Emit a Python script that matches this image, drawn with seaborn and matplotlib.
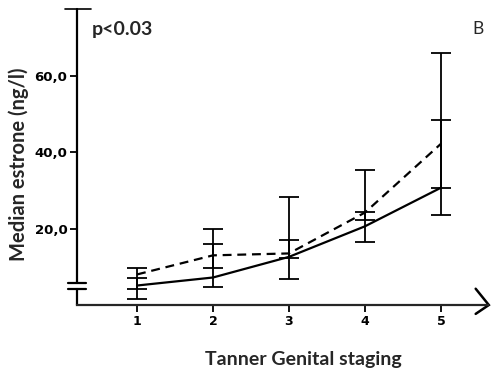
import numpy as np
import pandas as pd
import matplotlib
matplotlib.use("Agg")
import matplotlib.pyplot as plt
import seaborn as sns

# values
stages = [1, 2, 3, 4, 5]
median_dashed = [8.0, 13.0, 13.5, 24.2, 42.2]
median_solid = [5.1, 7.2, 12.6, 20.6, 30.7]
dashed_low = [4.3, 9.8, 12.2, 22.2, 30.7]
dashed_high = [9.8, 19.9, 28.4, 35.4, 66.0]
solid_low = [1.7, 4.6, 6.7, 16.4, 23.5]
solid_high = [7.2, 16.1, 17.1, 24.4, 48.5]
yticks = [20, 40, 60]
ytick_labels = ["20,0", "40,0", "60,0"]

sns.set_style("white")
plt.rcParams['font.family'] = ['Lato', 'DejaVu Sans']

df = pd.DataFrame({
    "stage": stages * 2,
    "median": median_dashed + median_solid,
    "group": ["dashed"] * 5 + ["solid"] * 5,
})

fig = plt.figure(figsize=(4.91, 3.74), dpi=100)
ax = fig.add_axes([77 / 491, 69 / 374, 411 / 491, 296 / 374])

sns.lineplot(data=df, x="stage", y="median", style="group", color="black",
             dashes={"dashed": (4, 2.6), "solid": ""}, linewidth=1.6,
             legend=False, ax=ax)

for med, lo, hi in [(median_dashed, dashed_low, dashed_high),
                    (median_solid, solid_low, solid_high)]:
    mid = [(a + b) / 2 for a, b in zip(lo, hi)]
    half = [(b - a) / 2 for a, b in zip(lo, hi)]
    ax.errorbar(stages, mid, yerr=half, fmt='none', ecolor='black',
                elinewidth=1.3, capsize=7.5, capthick=1.3)

ax.set_xlim(0.21, 5.62)
ax.set_ylim(0, 77.5)
ax.set_xticks(stages)
ax.set_xticklabels([str(s) for s in stages], fontsize=9, fontweight='bold',
                   family='DejaVu Sans')
ax.set_yticks(yticks)
ax.set_yticklabels(ytick_labels, fontsize=9.5, fontweight='bold',
                   family='DejaVu Sans')
ax.tick_params(axis='both', direction='out', length=5, width=1.3, pad=2,
               left=True, bottom=True, colors='black')
ax.set_xlabel("Tanner Genital staging", fontsize=14, fontweight='bold')
ax.xaxis.set_label_coords(0.552, -0.155)
ax.set_ylabel("Median estrone (ng/l)", fontsize=14.5, fontweight='bold')
ax.yaxis.set_label_coords(-0.117, 0.475)

for s in ["top", "right"]:
    ax.spines[s].set_visible(False)
ax.spines["left"].set_visible(False)
ax.spines["bottom"].set_linewidth(1.6)

# left axis with a break near the bottom
lk = dict(color='black', lw=1.6, clip_on=False, transform=ax.get_yaxis_transform())
ax.plot([0, 0], [5.8, 77.5], **lk)
ax.plot([0, 0], [0, 4.3], **lk)
ax.plot([-0.022, 0.022], [5.8, 5.8], **lk)
ax.plot([-0.022, 0.022], [4.3, 4.3], **lk)
ax.plot([-0.028, 0.035], [77.5, 77.5], color='black', lw=1.2, clip_on=False,
        transform=ax.get_yaxis_transform())

# arrow head on x axis
ax.plot([0.97, 1.002, 0.97], [0.055, 0.0, -0.03], color='black', lw=1.8,
        clip_on=False, transform=ax.transAxes, solid_joinstyle='miter')

fig.text(92 / 491, 1 - 30 / 374, "p<0.03", fontsize=14, fontweight='bold',
         va='center', ha='left')
fig.text(472 / 491, 1 - 29 / 374, "B", fontsize=12.5, va='center', ha='left')

fig.savefig("out.png", dpi=100)
